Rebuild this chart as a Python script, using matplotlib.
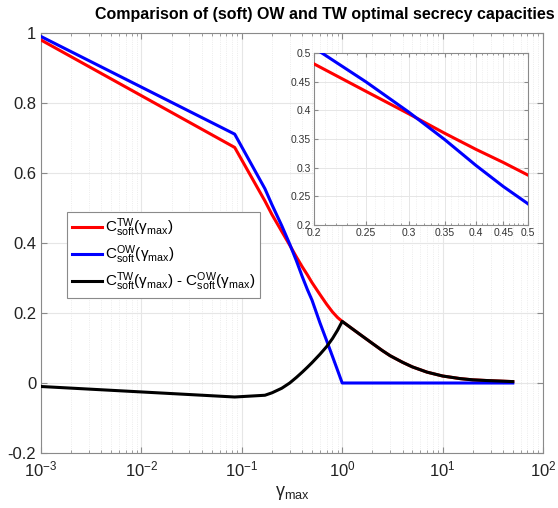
import numpy as np
import matplotlib
matplotlib.use("Agg")
import matplotlib.pyplot as plt
from matplotlib.ticker import LogLocator, FixedLocator, NullFormatter, FixedFormatter, NullLocator

plt.rcParams['font.family'] = ['Liberation Sans', 'DejaVu Sans']
plt.rcParams['mathtext.fontset'] = 'custom'
plt.rcParams['mathtext.rm'] = 'Liberation Sans'
plt.rcParams['mathtext.it'] = 'Liberation Sans:italic'
plt.rcParams['mathtext.bf'] = 'Liberation Sans:bold'
plt.rcParams['mathtext.default'] = 'regular'

# ---- data ----
gamma_max = [0.001, 0.085, 0.17, 0.2, 0.25, 0.3, 0.35, 0.4, 0.45, 0.5, 0.6, 0.7, 0.8, 0.9,
             1.0, 1.5, 2, 2.5, 3, 4, 5, 7, 10, 15, 20, 30, 50]
c_tw = [0.98, 0.673, 0.52, 0.481, 0.433, 0.394, 0.360, 0.332, 0.309, 0.287, 0.253, 0.225, 0.203, 0.187,
        0.176, 0.139, 0.113, 0.093, 0.078, 0.059, 0.046, 0.031, 0.020, 0.0125, 0.009, 0.0065, 0.004]
c_ow = [0.99, 0.711, 0.555, 0.509, 0.4495, 0.397, 0.349, 0.304, 0.267, 0.237, 0.172, 0.121, 0.076, 0.036,
        0.0, 0.0, 0.0, 0.0, 0.0, 0.0, 0.0, 0.0, 0.0, 0.0, 0.0, 0.0, 0.0]
c_diff = [-0.01, -0.04, -0.035, -0.028, -0.015, 0.0, 0.016, 0.031, 0.045, 0.058, 0.082, 0.104, 0.127, 0.151,
          0.176, 0.139, 0.113, 0.093, 0.078, 0.059, 0.046, 0.031, 0.020, 0.0125, 0.009, 0.0065, 0.004]

labels = [r'$C^{TW}_{soft}(\gamma_{max})$',
          r'$C^{OW}_{soft}(\gamma_{max})$',
          r'$C^{TW}_{soft}(\gamma_{max})$ - $C^{OW}_{soft}(\gamma_{max})$']

main_yticks = [-0.2, 0, 0.2, 0.4, 0.6, 0.8, 1]
main_yticklabels = ['-0.2', '0', '0.2', '0.4', '0.6', '0.8', '1']
inset_xticks = [0.2, 0.25, 0.3, 0.35, 0.4, 0.45, 0.5]
inset_xticklabels = ['0.2', '0.25', '0.3', '0.35', '0.4', '0.45', '0.5']
inset_yticks = [0.2, 0.25, 0.3, 0.35, 0.4, 0.45, 0.5]
inset_yticklabels = ['0.2', '0.25', '0.3', '0.35', '0.4', '0.45', '0.5']

W, H = 558, 508
fig = plt.figure(figsize=(W / 100, H / 100), dpi=100)

spine_col = '#8a8a8a'
grid_col = '#e6e6e6'

def px(l, t, r, b):
    return [l / W, 1 - b / H, (r - l) / W, (b - t) / H]

ax = fig.add_axes(px(41, 33, 543, 453))
ax.set_xscale('log')
ax.set_xlim(1e-3, 1e2)
ax.set_ylim(-0.2, 1)
ax.plot(gamma_max, c_tw, color='#ff0000', lw=2.2, label=labels[0], zorder=3)
ax.plot(gamma_max, c_ow, color='#0000ff', lw=2.2, label=labels[1], zorder=3)
ax.plot(gamma_max, c_diff, color='black', lw=2.2, label=labels[2], zorder=3)

ax.xaxis.set_major_locator(LogLocator(base=10, numticks=10))
ax.xaxis.set_minor_locator(LogLocator(base=10, subs=np.arange(2, 10), numticks=20))
ax.xaxis.set_minor_formatter(NullFormatter())
ax.set_yticks(main_yticks)
ax.set_yticklabels(main_yticklabels)
ax.grid(True, which='major', color=grid_col, lw=0.8)
ax.grid(True, which='minor', axis='x', color=grid_col, lw=0.6, ls=':')
ax.set_axisbelow(True)
ax.tick_params(which='both', direction='in', top=True, right=True, colors=spine_col,
               labelcolor='#222222', labelsize=12)
ax.tick_params(axis='x', which='major', pad=5)
ax.tick_params(which='major', length=4)
ax.tick_params(which='minor', length=2)
for s in ax.spines.values():
    s.set_color(spine_col)
    s.set_linewidth(0.8)
ax.set_xlabel(r'$\gamma_{max}$', fontsize=13, color='#222222', labelpad=3)

leg = ax.legend(loc='upper left', bbox_to_anchor=(0.052, 0.574), fontsize=11,
                frameon=True, fancybox=False, edgecolor=spine_col, framealpha=1,
                handlelength=2.0, handletextpad=0.2, borderpad=0.3, labelspacing=0.3,
                borderaxespad=0)
leg.get_frame().set_linewidth(0.8)

fig.text(325 / W, 1 - 15 / H, 'Comparison of (soft) OW and TW optimal secrecy capacities',
         ha='center', va='center', fontsize=11.5, fontweight='bold')

# ---- inset ----
axi = fig.add_axes(px(314, 53, 528, 225))
axi.set_xscale('log')
axi.plot(gamma_max, c_tw, color='#ff0000', lw=2.2, zorder=3)
axi.plot(gamma_max, c_ow, color='#0000ff', lw=2.2, zorder=3)
axi.set_xlim(0.2, 0.5)
axi.set_ylim(0.2, 0.5)
axi.xaxis.set_major_locator(FixedLocator(inset_xticks))
axi.xaxis.set_major_formatter(FixedFormatter(inset_xticklabels))
axi.xaxis.set_minor_locator(FixedLocator(list(np.round(np.arange(0.21, 0.5, 0.01), 2))))
axi.xaxis.set_minor_formatter(NullFormatter())
axi.set_yticks(inset_yticks)
axi.set_yticklabels(inset_yticklabels)
axi.yaxis.set_minor_locator(NullLocator())
axi.grid(True, which='major', color=grid_col, lw=0.7)
axi.grid(True, which='minor', axis='x', color=grid_col, lw=0.5, ls=':')
axi.set_axisbelow(True)
axi.tick_params(which='both', direction='in', top=True, right=True, colors=spine_col,
                labelcolor='#333333', labelsize=7.5, pad=2)
axi.tick_params(which='major', length=3)
axi.tick_params(which='minor', length=1.5)
for s in axi.spines.values():
    s.set_color(spine_col)
    s.set_linewidth(0.8)

fig.savefig('out.png', dpi=100)
